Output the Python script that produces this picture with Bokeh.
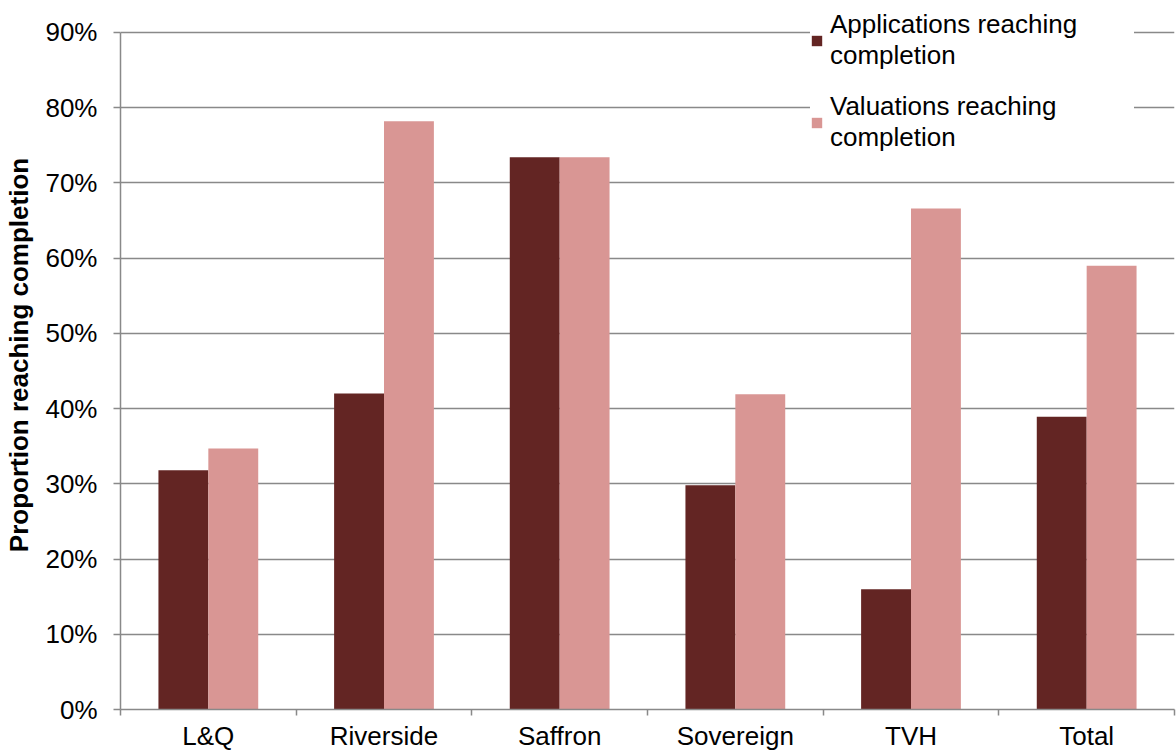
from bokeh.plotting import figure
from bokeh.models import (ColumnDataSource, Range1d, FixedTicker, PrintfTickFormatter,
                          Legend, LegendItem)
from bokeh.embed import file_html
from bokeh.resources import INLINE

categories = ["L&Q", "Riverside", "Saffron", "Sovereign", "TVH", "Total"]
applications = [31.8, 42.0, 73.4, 29.8, 16.0, 38.9]
valuations = [34.7, 78.2, 73.4, 41.9, 66.6, 59.0]
y_ticks = [0, 10, 20, 30, 40, 50, 60, 70, 80, 90]
series_names = ["Applications reaching\ncompletion", "Valuations reaching\ncompletion"]

DARK = "#632523"
PINK = "#D99694"
GRID = "#898989"
FONT = "Liberation Sans"

n = len(categories)
bar_w = 0.284
centers = [i + 0.5 for i in range(n)]
y_max = y_ticks[-1]
y_top = y_max * 711 / 679  # head room above the top gridline for the legend

src_a = ColumnDataSource(dict(x=[c - bar_w / 2 for c in centers], top=applications, cat=categories))
src_v = ColumnDataSource(dict(x=[c + bar_w / 2 for c in centers], top=valuations, cat=categories))

p = figure(width=1176, height=753, output_backend="svg", toolbar_location=None,
           x_range=Range1d(0, n), y_range=Range1d(0, y_top),
           min_border_left=120, min_border_right=2, min_border_top=0, min_border_bottom=42)
p.outline_line_color = None
p.background_fill_color = "white"
p.border_fill_color = "white"

r_a = p.vbar(x="x", top="top", width=bar_w, source=src_a, fill_color=DARK, line_color=None)
r_v = p.vbar(x="x", top="top", width=bar_w, source=src_v, fill_color=PINK, line_color=None)

# x axis
xa = p.xaxis[0]
xa.ticker = FixedTicker(ticks=centers, minor_ticks=list(range(n + 1)))
xa.major_label_overrides = {c: cat for c, cat in zip(centers, categories)}
xa.major_tick_out = 0
xa.major_tick_in = 0
xa.minor_tick_out = 6
xa.minor_tick_in = 0
xa.minor_tick_line_color = GRID
xa.minor_tick_line_width = 1.5
xa.axis_line_color = GRID
xa.axis_line_width = 1.5
xa.major_label_text_font = FONT
xa.major_label_text_font_size = "26px"
xa.major_label_text_color = "black"
xa.major_label_standoff = 5

# y axis
ya = p.yaxis[0]
ya.ticker = FixedTicker(ticks=y_ticks)
ya.bounds = (0, y_max)
ya.formatter = PrintfTickFormatter(format="%d%%")
ya.major_tick_out = 7
ya.major_tick_in = 0
ya.minor_tick_out = 0
ya.minor_tick_in = 0
ya.major_tick_line_color = GRID
ya.major_tick_line_width = 1.5
ya.axis_line_color = GRID
ya.axis_line_width = 1.5
ya.major_label_text_font = FONT
ya.major_label_text_font_size = "26px"
ya.major_label_text_color = "black"
ya.major_label_standoff = 16
ya.axis_label = "Proportion reaching completion"
ya.axis_label_text_font = FONT
ya.axis_label_text_font_style = "bold"
ya.axis_label_text_font_size = "26px"
ya.axis_label_text_color = "black"
ya.axis_label_standoff = 8

p.xgrid.grid_line_color = None
p.ygrid.grid_line_color = GRID
p.ygrid.grid_line_width = 1.5
p.ygrid.ticker = FixedTicker(ticks=y_ticks)

legend = Legend(items=[LegendItem(label=series_names[0], renderers=[r_a]),
                       LegendItem(label=series_names[1], renderers=[r_v])],
                location=(690, 556))
legend.glyph_width = 13
legend.glyph_height = 13
legend.label_standoff = 7
legend.label_width = 304
legend.padding = 0
legend.margin = 0
legend.spacing = 20
legend.border_line_color = None
legend.background_fill_color = "white"
legend.background_fill_alpha = 1.0
legend.label_text_font = FONT
legend.label_text_font_size = "26px"
legend.label_text_color = "black"
p.add_layout(legend, "center")

open("out.html", "w").write(file_html(p, INLINE))
